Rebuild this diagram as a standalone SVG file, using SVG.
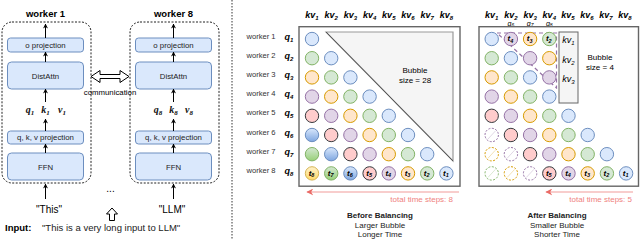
<svg xmlns="http://www.w3.org/2000/svg" width="640" height="240" viewBox="0 0 640 240">
<defs>
<style>
text{font-family:"Liberation Sans",Arial,sans-serif;fill:#000}
.wt{font-size:9.5px;font-weight:bold;text-anchor:middle}
.bx{fill:#dae8fc;stroke:#6c8ebf;stroke-width:1}
.bl{font-size:7.8px;text-anchor:middle;fill:#222}
.ct{fill:none;stroke:#222;stroke-width:1;stroke-dasharray:2 1.5}
.ar{stroke:#000;stroke-width:1;fill:none;marker-end:url(#ah)}
.m{font-family:"Liberation Serif","DejaVu Serif",serif;font-weight:bold;font-style:italic;text-anchor:middle;fill:#111}
.ml{font-size:10px}
.kv{font-size:9px}
.tl{font-size:8px;fill:#333}
.wl{font-size:7.6px;text-anchor:middle;fill:#333}
.b{fill:#dae8fc;stroke:#6c8ebf}
.g{fill:#d5e8d4;stroke:#82b366}
.o{fill:#ffe6cc;stroke:#d79b00}
.p{fill:#e1d5e7;stroke:#9673a6}
.r{fill:#ffcccc;stroke:#36393d}
.bg{fill:url(#gB);stroke:#6c8ebf}
.gg{fill:url(#gG);stroke:#82b366}
.yg{fill:url(#gY);stroke:#d6b656}
.dg{fill:#fff;stroke:#82b366;stroke-dasharray:2 1.5}
.do{fill:#fff;stroke:#d79b00;stroke-dasharray:2 1.5}
.dp{fill:#fff;stroke:#9673a6;stroke-dasharray:2 1.5}
circle{stroke-width:1}
.grid{fill:#fff;stroke:#666;stroke-width:1.4}
.bub{fill:#f5f5f5;stroke:#999;stroke-width:1.2}
.red{stroke:#f19c99;stroke-width:1.2;fill:none;marker-end:url(#rh)}
.rt{font-size:8px;fill:#ef8280;text-anchor:end}
.cap{font-size:8px;text-anchor:middle;fill:#222}
.pl{font-family:"Liberation Serif","DejaVu Serif",serif;font-style:italic;fill:#a680b8;text-anchor:middle}
</style>
<marker id="ah" viewBox="0 0 10 10" refX="9" refY="5" markerWidth="5" markerHeight="5" orient="auto" markerUnits="userSpaceOnUse"><path d="M0,0 L10,5 L0,10 L3,5 z" fill="#000"/></marker>
<marker id="rh" viewBox="0 0 10 10" refX="9" refY="5" markerWidth="7" markerHeight="7" orient="auto" markerUnits="userSpaceOnUse"><path d="M0,0 L10,5 L0,10 L3,5 z" fill="#ea6b66"/></marker>
<linearGradient id="gB" x1="0" y1="0" x2="0" y2="1"><stop offset="0" stop-color="#dae8fc"/><stop offset="1" stop-color="#7ea6e0"/></linearGradient>
<linearGradient id="gG" x1="0" y1="0" x2="0" y2="1"><stop offset="0" stop-color="#d5e8d4"/><stop offset="1" stop-color="#97d077"/></linearGradient>
<linearGradient id="gY" x1="0" y1="0" x2="0" y2="1"><stop offset="0" stop-color="#fff2cc"/><stop offset="1" stop-color="#ffd966"/></linearGradient>
</defs>

<!-- Left: workers -->
<g id="worker1">
<text class="wt" x="45.5" y="17">worker 1</text>
<rect class="ct" x="2" y="22" width="89" height="161" rx="10"/>
<rect class="bx" x="7.5" y="38" width="76" height="14" rx="3"/>
<text class="bl" x="45.5" y="47.5">o projection</text>
<rect class="bx" x="7.5" y="62" width="76" height="27" rx="4"/>
<text class="bl" x="45.5" y="78.5">DistAttn</text>
<text class="m ml" x="30" y="113">q<tspan font-size="7" dy="2">1</tspan></text>
<text class="m ml" x="45.5" y="113">k<tspan font-size="7" dy="2">1</tspan></text>
<text class="m ml" x="62" y="113">v<tspan font-size="7" dy="2">1</tspan></text>
<rect class="bx" x="7.5" y="131" width="76" height="13" rx="3"/>
<text class="bl" x="45.5" y="140">q, k, v projection</text>
<rect class="bx" x="7.5" y="153" width="76" height="27" rx="4"/>
<text class="bl" x="45.5" y="169.5">FFN</text>
<text x="49" y="213" font-size="10" text-anchor="middle" fill="#222">"This"</text>
</g>
<g id="worker8">
<text class="wt" x="173.5" y="17">worker 8</text>
<rect class="ct" x="130" y="22" width="89" height="161" rx="10"/>
<rect class="bx" x="135.5" y="38" width="76" height="14" rx="3"/>
<text class="bl" x="173.5" y="47.5">o projection</text>
<rect class="bx" x="135.5" y="62" width="76" height="27" rx="4"/>
<text class="bl" x="173.5" y="78.5">DistAttn</text>
<text class="m ml" x="158" y="113">q<tspan font-size="7" dy="2">8</tspan></text>
<text class="m ml" x="173.5" y="113">k<tspan font-size="7" dy="2">8</tspan></text>
<text class="m ml" x="189" y="113">v<tspan font-size="7" dy="2">8</tspan></text>
<rect class="bx" x="135.5" y="131" width="76" height="13" rx="3"/>
<text class="bl" x="173.5" y="140">q, k, v projection</text>
<rect class="bx" x="135.5" y="153" width="76" height="27" rx="4"/>
<text class="bl" x="173.5" y="169.5">FFN</text>
<text x="172" y="213" font-size="10" text-anchor="middle" fill="#222">"LLM"</text>
</g>
<g id="input">
<text x="110.5" y="192" font-size="10" text-anchor="middle" fill="#222">...</text>
<polygon points="112,208 117.5,214 114.5,214 114.5,220.5 109.5,220.5 109.5,214 106.5,214" fill="#fff" stroke="#000" stroke-width="1"/>
<text x="5" y="230.5" font-size="9.5"><tspan font-weight="bold">Input:</tspan><tspan x="42" fill="#222">"This is a very long input to LLM"</tspan></text>
</g>
<g id="communication">
<polygon points="91,76.5 100,70.5 100,74.5 120,74.5 120,70.5 129,76.5 120,82.5 120,78.5 100,78.5 100,82.5" fill="#fff" stroke="#000" stroke-width="1"/>
<text x="110" y="95" font-size="7.8" text-anchor="middle" fill="#222">communication</text>
</g>
<g id="connectors">
<line class="ar" x1="45.5" y1="38" x2="45.5" y2="24"/>
<line class="ar" x1="45.5" y1="62" x2="45.5" y2="52"/>
<line class="ar" x1="45.5" y1="102" x2="45.5" y2="89"/>
<line class="ar" x1="45.5" y1="131" x2="45.5" y2="119"/>
<line class="ar" x1="45.5" y1="153" x2="45.5" y2="144"/>
<line class="ar" x1="45.5" y1="199" x2="45.5" y2="184"/>
<line class="ar" x1="173.5" y1="38" x2="173.5" y2="24"/>
<line class="ar" x1="173.5" y1="62" x2="173.5" y2="52"/>
<line class="ar" x1="173.5" y1="102" x2="173.5" y2="89"/>
<line class="ar" x1="173.5" y1="131" x2="173.5" y2="119"/>
<line class="ar" x1="173.5" y1="153" x2="173.5" y2="144"/>
<line class="ar" x1="173.5" y1="199" x2="173.5" y2="184"/>
<line class="red" x1="459" y1="192" x2="307" y2="192"/>
<line class="red" x1="633" y1="192" x2="546" y2="192"/>
</g>

<line x1="232" y1="0" x2="232" y2="240" stroke="#333" stroke-width="1" stroke-dasharray="1.5 1.5"/>

<!-- Middle: before balancing -->
<g id="before">
<g class="m kv">
<text x="312" y="18">kv<tspan font-size="6" dy="2">1</tspan></text>
<text x="331.2" y="18">kv<tspan font-size="6" dy="2">2</tspan></text>
<text x="350.4" y="18">kv<tspan font-size="6" dy="2">3</tspan></text>
<text x="369.6" y="18">kv<tspan font-size="6" dy="2">4</tspan></text>
<text x="388.8" y="18">kv<tspan font-size="6" dy="2">5</tspan></text>
<text x="408" y="18">kv<tspan font-size="6" dy="2">6</tspan></text>
<text x="427.2" y="18">kv<tspan font-size="6" dy="2">7</tspan></text>
<text x="446.4" y="18">kv<tspan font-size="6" dy="2">8</tspan></text>
</g>
<g>
<text class="wl" x="261" y="38.5">worker 1</text>
<text class="wl" x="261" y="57.7">worker 2</text>
<text class="wl" x="261" y="76.9">worker 3</text>
<text class="wl" x="261" y="96.1">worker 4</text>
<text class="wl" x="261" y="115.3">worker 5</text>
<text class="wl" x="261" y="134.5">worker 6</text>
<text class="wl" x="261" y="153.7">worker 7</text>
<text class="wl" x="261" y="172.9">worker 8</text>
</g>
<g class="m kv">
<text x="289" y="39.5">q<tspan font-size="6" dy="2">1</tspan></text>
<text x="289" y="58.7">q<tspan font-size="6" dy="2">2</tspan></text>
<text x="289" y="77.9">q<tspan font-size="6" dy="2">3</tspan></text>
<text x="289" y="97.1">q<tspan font-size="6" dy="2">4</tspan></text>
<text x="289" y="116.3">q<tspan font-size="6" dy="2">5</tspan></text>
<text x="289" y="135.5">q<tspan font-size="6" dy="2">6</tspan></text>
<text x="289" y="154.7">q<tspan font-size="6" dy="2">7</tspan></text>
<text x="289" y="173.9">q<tspan font-size="6" dy="2">8</tspan></text>
</g>
<rect class="grid" x="299" y="26.7" width="161" height="159.5"/>
<polygon class="bub" points="326,32 453,32 453,161"/>
<line x1="326" y1="32" x2="453" y2="161" stroke="#444" stroke-width="0.8"/>
<text x="415" y="73" font-size="8" text-anchor="middle" fill="#333">Bubble</text>
<text x="415" y="83" font-size="8" text-anchor="middle" fill="#333">size = 28</text>
<g>
<circle class="b" cx="312" cy="39" r="6.7"/>
<circle class="g" cx="312" cy="58.2" r="6.7"/><circle class="b" cx="331.2" cy="58.2" r="6.7"/>
<circle class="o" cx="312" cy="77.4" r="6.7"/><circle class="g" cx="331.2" cy="77.4" r="6.7"/><circle class="b" cx="350.4" cy="77.4" r="6.7"/>
<circle class="p" cx="312" cy="96.6" r="6.7"/><circle class="o" cx="331.2" cy="96.6" r="6.7"/><circle class="g" cx="350.4" cy="96.6" r="6.7"/><circle class="b" cx="369.6" cy="96.6" r="6.7"/>
<circle class="r" cx="312" cy="115.8" r="6.7"/><circle class="p" cx="331.2" cy="115.8" r="6.7"/><circle class="o" cx="350.4" cy="115.8" r="6.7"/><circle class="g" cx="369.6" cy="115.8" r="6.7"/><circle class="b" cx="388.8" cy="115.8" r="6.7"/>
<circle class="bg" cx="312" cy="135" r="6.7"/><circle class="r" cx="331.2" cy="135" r="6.7"/><circle class="p" cx="350.4" cy="135" r="6.7"/><circle class="o" cx="369.6" cy="135" r="6.7"/><circle class="g" cx="388.8" cy="135" r="6.7"/><circle class="b" cx="408" cy="135" r="6.7"/>
<circle class="gg" cx="312" cy="154.2" r="6.7"/><circle class="bg" cx="331.2" cy="154.2" r="6.7"/><circle class="r" cx="350.4" cy="154.2" r="6.7"/><circle class="p" cx="369.6" cy="154.2" r="6.7"/><circle class="o" cx="388.8" cy="154.2" r="6.7"/><circle class="g" cx="408" cy="154.2" r="6.7"/><circle class="b" cx="427.2" cy="154.2" r="6.7"/>
<circle class="yg" cx="312" cy="173.4" r="6.7"/><circle class="gg" cx="331.2" cy="173.4" r="6.7"/><circle class="bg" cx="350.4" cy="173.4" r="6.7"/><circle class="r" cx="369.6" cy="173.4" r="6.7"/><circle class="p" cx="388.8" cy="173.4" r="6.7"/><circle class="o" cx="408" cy="173.4" r="6.7"/><circle class="g" cx="427.2" cy="173.4" r="6.7"/><circle class="b" cx="446.4" cy="173.4" r="6.7"/>
</g>
<g class="m tl">
<text x="311.5" y="175.5">t<tspan font-size="5.5" dy="1.5">8</tspan></text>
<text x="330.7" y="175.5">t<tspan font-size="5.5" dy="1.5">7</tspan></text>
<text x="349.9" y="175.5">t<tspan font-size="5.5" dy="1.5">6</tspan></text>
<text x="369.1" y="175.5">t<tspan font-size="5.5" dy="1.5">5</tspan></text>
<text x="388.3" y="175.5">t<tspan font-size="5.5" dy="1.5">4</tspan></text>
<text x="407.5" y="175.5">t<tspan font-size="5.5" dy="1.5">3</tspan></text>
<text x="426.7" y="175.5">t<tspan font-size="5.5" dy="1.5">2</tspan></text>
<text x="445.9" y="175.5">t<tspan font-size="5.5" dy="1.5">1</tspan></text>
</g>
<text class="rt" x="453" y="202">total time steps: 8</text>
<text class="cap" x="380" y="218" font-weight="bold" fill="#000">Before Balancing</text>
<text class="cap" x="380" y="227.5">Larger Bubble</text>
<text class="cap" x="380" y="237">Longer Time</text>
</g>

<!-- Right: after balancing -->
<g id="after">
<g class="m kv">
<text x="491.7" y="18">kv<tspan font-size="6" dy="2">1</tspan></text>
<text x="510.9" y="18">kv<tspan font-size="6" dy="2">2</tspan></text>
<text x="530.1" y="18">kv<tspan font-size="6" dy="2">3</tspan></text>
<text x="549.3" y="18">kv<tspan font-size="6" dy="2">4</tspan></text>
<text x="568" y="18">kv<tspan font-size="6" dy="2">5</tspan></text>
<text x="587" y="18">kv<tspan font-size="6" dy="2">6</tspan></text>
<text x="606" y="18">kv<tspan font-size="6" dy="2">7</tspan></text>
<text x="625" y="18">kv<tspan font-size="6" dy="2">8</tspan></text>
</g>
<g class="pl" font-size="7">
<text x="510.9" y="25.5">q<tspan font-size="5" dy="1.5">6</tspan></text>
<text x="530.1" y="25.5">q<tspan font-size="5" dy="1.5">7</tspan></text>
<text x="549.3" y="25.5">q<tspan font-size="5" dy="1.5">8</tspan></text>
</g>
<rect class="grid" x="479" y="26.7" width="159.5" height="159.5"/>
<rect x="559" y="32" width="19" height="71" fill="#f5f5f5" stroke="#666" stroke-width="1"/>
<g class="pl" font-size="9">
<text x="568.5" y="43">kv<tspan font-size="6" dy="2">1</tspan></text>
<text x="568.5" y="62.5">kv<tspan font-size="6" dy="2">2</tspan></text>
<text x="568.5" y="81.5">kv<tspan font-size="6" dy="2">3</tspan></text>
</g>
<text x="600" y="60" font-size="8" text-anchor="middle" fill="#333">Bubble</text>
<text x="600" y="70" font-size="8" text-anchor="middle" fill="#333">size = 4</text>
<polygon points="497,33 556.5,33 556.5,88" fill="none" stroke="#9673a6" stroke-width="1.2" stroke-dasharray="4 3"/>
<g>
<circle class="b" cx="491.7" cy="39" r="6.7"/><circle class="p" cx="510.9" cy="39" r="6.7"/><circle class="o" cx="530.1" cy="39" r="6.7"/><circle class="g" cx="549.3" cy="39" r="6.7"/>
<circle class="g" cx="491.7" cy="58.2" r="6.7"/><circle class="b" cx="510.9" cy="58.2" r="6.7"/><circle class="p" cx="530.1" cy="58.2" r="6.7"/><circle class="o" cx="549.3" cy="58.2" r="6.7"/>
<circle class="o" cx="491.7" cy="77.4" r="6.7"/><circle class="g" cx="510.9" cy="77.4" r="6.7"/><circle class="b" cx="530.1" cy="77.4" r="6.7"/><circle class="p" cx="549.3" cy="77.4" r="6.7"/>
<circle class="p" cx="491.7" cy="96.6" r="6.7"/><circle class="o" cx="510.9" cy="96.6" r="6.7"/><circle class="g" cx="530.1" cy="96.6" r="6.7"/><circle class="b" cx="549.3" cy="96.6" r="6.7"/>
<circle class="r" cx="491.7" cy="115.8" r="6.7"/><circle class="p" cx="510.9" cy="115.8" r="6.7"/><circle class="o" cx="530.1" cy="115.8" r="6.7"/><circle class="g" cx="549.3" cy="115.8" r="6.7"/><circle class="b" cx="568.5" cy="115.8" r="6.7"/>
<circle class="dp" cx="491.7" cy="135" r="6.7"/><circle class="r" cx="510.9" cy="135" r="6.7"/><circle class="p" cx="530.1" cy="135" r="6.7"/><circle class="o" cx="549.3" cy="135" r="6.7"/><circle class="g" cx="568.5" cy="135" r="6.7"/><circle class="b" cx="587.7" cy="135" r="6.7"/>
<circle class="do" cx="491.7" cy="154.2" r="6.7"/><circle class="dp" cx="510.9" cy="154.2" r="6.7"/><circle class="r" cx="530.1" cy="154.2" r="6.7"/><circle class="p" cx="549.3" cy="154.2" r="6.7"/><circle class="o" cx="568.5" cy="154.2" r="6.7"/><circle class="g" cx="587.7" cy="154.2" r="6.7"/><circle class="b" cx="606.9" cy="154.2" r="6.7"/>
<circle class="dg" cx="491.7" cy="173.4" r="6.7"/><circle class="do" cx="510.9" cy="173.4" r="6.7"/><circle class="dp" cx="530.1" cy="173.4" r="6.7"/><circle class="r" cx="549.3" cy="173.4" r="6.7"/><circle class="p" cx="568.5" cy="173.4" r="6.7"/><circle class="o" cx="587.7" cy="173.4" r="6.7"/><circle class="g" cx="606.9" cy="173.4" r="6.7"/><circle class="b" cx="626.1" cy="173.4" r="6.7"/>
</g>
<g stroke-width="0.8" opacity="0.35">
<line x1="488" y1="139" x2="495.4" y2="131" stroke="#9673a6"/>
<line x1="488" y1="158.2" x2="495.4" y2="150.2" stroke="#d79b00"/>
<line x1="507.2" y1="158.2" x2="514.6" y2="150.2" stroke="#9673a6"/>
<line x1="488" y1="177.4" x2="495.4" y2="169.4" stroke="#82b366"/>
<line x1="507.2" y1="177.4" x2="514.6" y2="169.4" stroke="#d79b00"/>
<line x1="526.4" y1="177.4" x2="533.8" y2="169.4" stroke="#9673a6"/>
</g>
<g class="m tl">
<text x="510.4" y="41.1">t<tspan font-size="5.5" dy="1.5">4</tspan></text>
<text x="529.6" y="41.1">t<tspan font-size="5.5" dy="1.5">3</tspan></text>
<text x="548.8" y="41.1">t<tspan font-size="5.5" dy="1.5">2</tspan></text>
<text x="548.8" y="175.5">t<tspan font-size="5.5" dy="1.5">5</tspan></text>
<text x="568" y="175.5">t<tspan font-size="5.5" dy="1.5">4</tspan></text>
<text x="587.2" y="175.5">t<tspan font-size="5.5" dy="1.5">3</tspan></text>
<text x="606.4" y="175.5">t<tspan font-size="5.5" dy="1.5">2</tspan></text>
<text x="625.6" y="175.5">t<tspan font-size="5.5" dy="1.5">1</tspan></text>
</g>
<text class="rt" x="632" y="202">total time steps: 5</text>
<text class="cap" x="557" y="218" font-weight="bold" fill="#000">After Balancing</text>
<text class="cap" x="557" y="227.5">Smaller Bubble</text>
<text class="cap" x="557" y="237">Shorter Time</text>
</g>
</svg>
